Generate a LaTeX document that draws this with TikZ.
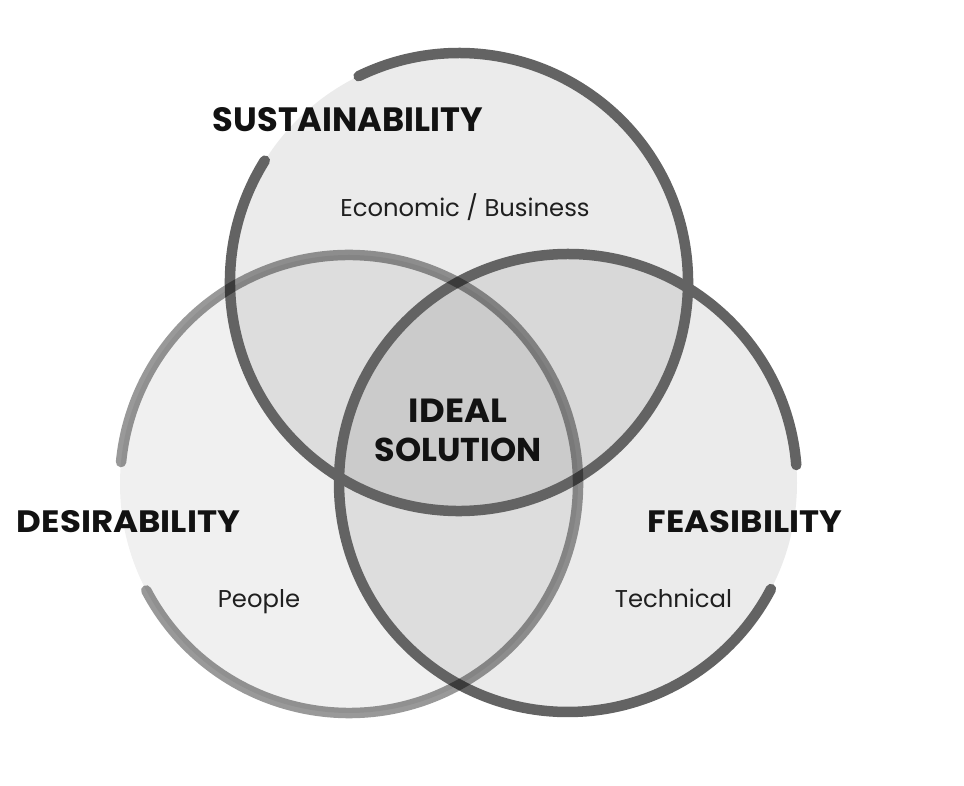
\documentclass[tikz,border=0pt]{standalone}
\usepackage{fontspec}
\setmainfont{Poppins}
\begin{document}
\begin{tikzpicture}[x=1pt,y=1pt,
  circfill/.style={fill=black,fill opacity=#1},
  ring/.style={line width=10.5pt,line cap=round,draw=#1},
  head/.style={text=black!93,inner sep=0pt,anchor=base},
  sub/.style={text=black!88,inner sep=0pt,anchor=base,font=\fontsize{24.3}{29}\selectfont}]
\useasboundingbox (0,0) rectangle (964,786);
\fill[white] (0,0) rectangle (964,786);
\coordinate (T) at (459,504);
\coordinate (L) at (349,302);
\coordinate (R) at (568,303);
% fills
\fill[circfill=0.078] (T) circle[radius=229];
\fill[circfill=0.059] (L) circle[radius=229];
\fill[circfill=0.078] (R) circle[radius=229];
% rings
\draw[ring=black!61] (T) ++(148:229) arc[start angle=148,end angle=476,radius=229];
\draw[ring=black!61] (R) ++(4.5:229) arc[start angle=4.5,end angle=332.4,radius=229];
\draw[ring=black,draw opacity=0.4] (L) ++(207.7:229) arc[start angle=207.7,end angle=534.5,radius=229];
% texts
\node[head] (sus) at (348,654) {\resizebox{270pt}{24pt}{\bfseries SUSTAINABILITY}};
\node[sub] (eco) at (465,569) {Economic / Business};
\node[head] (ideal) at (458,363) {\resizebox{98pt}{23.5pt}{\bfseries IDEAL}};
\node[head] (sol) at (458,324) {\resizebox{167pt}{23.5pt}{\bfseries SOLUTION}};
\node[head] (des) at (128.5,253) {\resizebox{223pt}{22pt}{\bfseries DESIRABILITY}};
\node[head] (fea) at (745,253) {\resizebox{194pt}{22pt}{\bfseries FEASIBILITY}};
\node[sub] (peo) at (259,178) {People};
\node[sub] (tec) at (673.5,178) {Technical};
\end{tikzpicture}
\end{document}
